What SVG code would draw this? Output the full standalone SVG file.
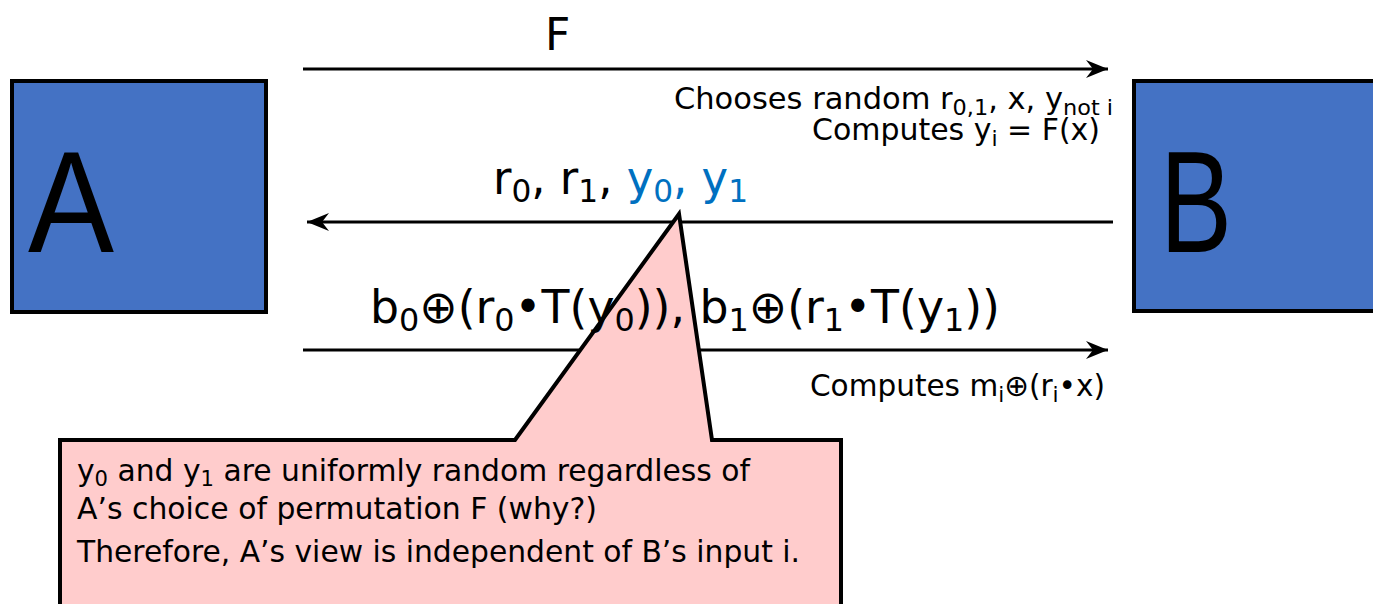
<svg xmlns="http://www.w3.org/2000/svg" width="1373" height="604" viewBox="0 0 1373 604">
<style>
.t{font-family:"DejaVu Sans","Liberation Sans",sans-serif;fill:#000}
.big{font-family:"Liberation Sans",Arial,sans-serif;fill:#000;font-size:144px}
.box{fill:#4472C4;stroke:#000;stroke-width:4}
.conn{stroke:#000;stroke-width:3;fill:none}
.blue{fill:#0070C0}
</style>
<defs>
<marker id="ah" viewBox="-24 -10 26 20" markerWidth="26" markerHeight="20" refX="0" refY="0" orient="auto" markerUnits="userSpaceOnUse">
<path d="M0,0 L-22,-9 L-15,0 L-22,9 Z" fill="#000"/>
</marker>
</defs>
<rect width="1373" height="604" fill="#fff"/>
<g id="nodeA">
<rect class="box" x="12" y="81" width="254" height="231"/>
<text class="big" x="28" y="252" textLength="86" lengthAdjust="spacingAndGlyphs">A</text>
</g>
<g id="nodeB">
<rect class="box" x="1134" y="81" width="250" height="230"/>
<text class="big" x="1160" y="252" textLength="72" lengthAdjust="spacingAndGlyphs">B</text>
</g>
<g id="connectors">
<line class="conn" x1="303" y1="69" x2="1108" y2="69" marker-end="url(#ah)"/>
<line class="conn" x1="1113" y1="222" x2="307" y2="222" marker-end="url(#ah)"/>
<line class="conn" x1="303" y1="350" x2="1108" y2="350" marker-end="url(#ah)"/>
</g>
<g id="labels">
<text class="t" x="545" y="50" font-size="44">F</text>
<text class="t" x="674" y="109" font-size="30" textLength="439" lengthAdjust="spacingAndGlyphs">Chooses random r<tspan font-size="22" dy="6">0,1</tspan><tspan dy="-6">, x, y</tspan><tspan font-size="22" dy="6">not i</tspan></text>
<text class="t" x="812" y="140" font-size="30" textLength="288" lengthAdjust="spacingAndGlyphs">Computes y<tspan font-size="22" dy="6">i</tspan><tspan dy="-6"> = F(x)</tspan></text>
<text class="t" x="493" y="194" font-size="46" textLength="255" lengthAdjust="spacingAndGlyphs">r<tspan font-size="32" dy="8">0</tspan><tspan dy="-8">, r</tspan><tspan font-size="32" dy="8">1</tspan><tspan dy="-8">, </tspan><tspan class="blue">y</tspan><tspan class="blue" font-size="32" dy="8">0</tspan><tspan class="blue" dy="-8">, y</tspan><tspan class="blue" font-size="32" dy="8">1</tspan></text>
<text class="t" x="810" y="396" font-size="30" textLength="295" lengthAdjust="spacingAndGlyphs">Computes m<tspan font-size="22" dy="6">i</tspan><tspan dy="-6">⊕(r</tspan><tspan font-size="22" dy="6">i</tspan><tspan dy="-6">•x)</tspan></text>
</g>
<g id="callout">
<path d="M60,440 L515,440 L679,214 L712,440 L841,440 L841,610 L60,610 Z" fill="#FFCCCC" stroke="#000" stroke-width="4" stroke-linejoin="miter"/>
<text class="t" x="77" y="481" font-size="31" textLength="673" lengthAdjust="spacingAndGlyphs">y<tspan font-size="22" dy="5">0</tspan><tspan dy="-5"> and y</tspan><tspan font-size="22" dy="5">1</tspan><tspan dy="-5"> are uniformly random regardless of</tspan></text>
<text class="t" x="77" y="519" font-size="31" textLength="520" lengthAdjust="spacingAndGlyphs">A’s choice of permutation F (why?)</text>
<text class="t" x="77" y="562" font-size="31" textLength="723" lengthAdjust="spacingAndGlyphs">Therefore, A’s view is independent of B’s input i.</text>
</g>
<g id="formula">
<text class="t" x="370" y="323" font-size="46" textLength="630" lengthAdjust="spacingAndGlyphs">b<tspan font-size="32" dy="8">0</tspan><tspan dy="-8">⊕(r</tspan><tspan font-size="32" dy="8">0</tspan><tspan dy="-8">•T(y</tspan><tspan font-size="32" dy="8">0</tspan><tspan dy="-8">)), b</tspan><tspan font-size="32" dy="8">1</tspan><tspan dy="-8">⊕(r</tspan><tspan font-size="32" dy="8">1</tspan><tspan dy="-8">•T(y</tspan><tspan font-size="32" dy="8">1</tspan><tspan dy="-8">))</tspan></text>
</g>
</svg>
